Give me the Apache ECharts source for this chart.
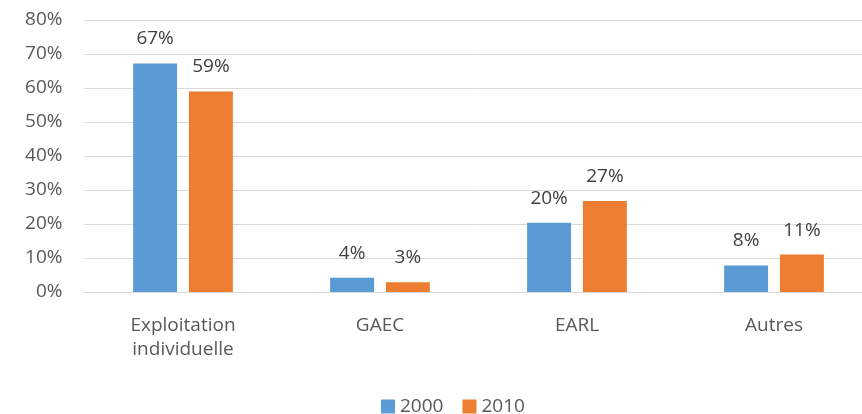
<!DOCTYPE html>
<html>
<head>
<meta charset="utf-8">
<script src="https://cdn.jsdelivr.net/npm/echarts@6/dist/echarts.min.js"></script>
<style>
  html, body { margin: 0; padding: 0; background: #fff; }
  #chart { width: 862px; height: 414px; }
</style>
</head>
<body>
<div id="chart"></div>
<script>
const categories = ["Exploitation\nindividuelle", "GAEC", "EARL", "Autres"];
const values2000 = [67.2, 4.2, 20.4, 7.8];
const values2010 = [59.0, 2.9, 26.8, 11.0];
const yTicks = [0, 10, 20, 30, 40, 50, 60, 70, 80];

const font = "'Open Sans', 'Liberation Sans', sans-serif";

const chart = echarts.init(document.getElementById("chart"));

const labelStyle = {
    show: true,
    position: "top",
    distance: 15,
    color: "#404040",
    fontSize: 19,
    fontFamily: font,
    formatter: (p) => Math.round(p.value) + "%",
};

chart.setOption({
    animation: false,
    textStyle: { fontFamily: font },
    // the plot runs a little past the right edge of the picture
    grid: { left: 84.5, width: 788, top: 20, bottom: 122, outerBoundsMode: "none" },
    legend: {
        bottom: -2,
        left: 381,
        padding: 0,
        itemWidth: 14,
        itemHeight: 14,
        itemGap: 19,
        icon: "rect",
        textStyle: { color: "#595959", fontSize: 19, fontFamily: font },
        data: ["2000", "2010"],
    },
    xAxis: {
        type: "category",
        data: categories,
        axisLine: { lineStyle: { color: "#D9D9D9" } },
        axisTick: { show: false },
        axisLabel: {
            color: "#595959",
            fontSize: 19,
            lineHeight: 24,
            margin: 22,
            fontFamily: font,
        },
    },
    yAxis: {
        type: "value",
        min: yTicks[0],
        max: yTicks[yTicks.length - 1],
        interval: 10,
        axisLine: { show: false },
        axisTick: { show: false },
        splitLine: { lineStyle: { color: "#D9D9D9", width: 1 } },
        axisLabel: {
            color: "#595959",
            fontSize: 19,
            margin: 22,
            fontFamily: font,
            formatter: "{value}%",
        },
    },
    series: [
        {
            name: "2000",
            type: "bar",
            data: values2000,
            barWidth: "22.3%",
            barGap: "27%",
            itemStyle: { color: "#5B9BD5" },
            label: labelStyle,
        },
        {
            name: "2010",
            type: "bar",
            data: values2010,
            barWidth: "22.3%",
            itemStyle: { color: "#ED7D31" },
            label: labelStyle,
        },
    ],
});
</script>
</body>
</html>
